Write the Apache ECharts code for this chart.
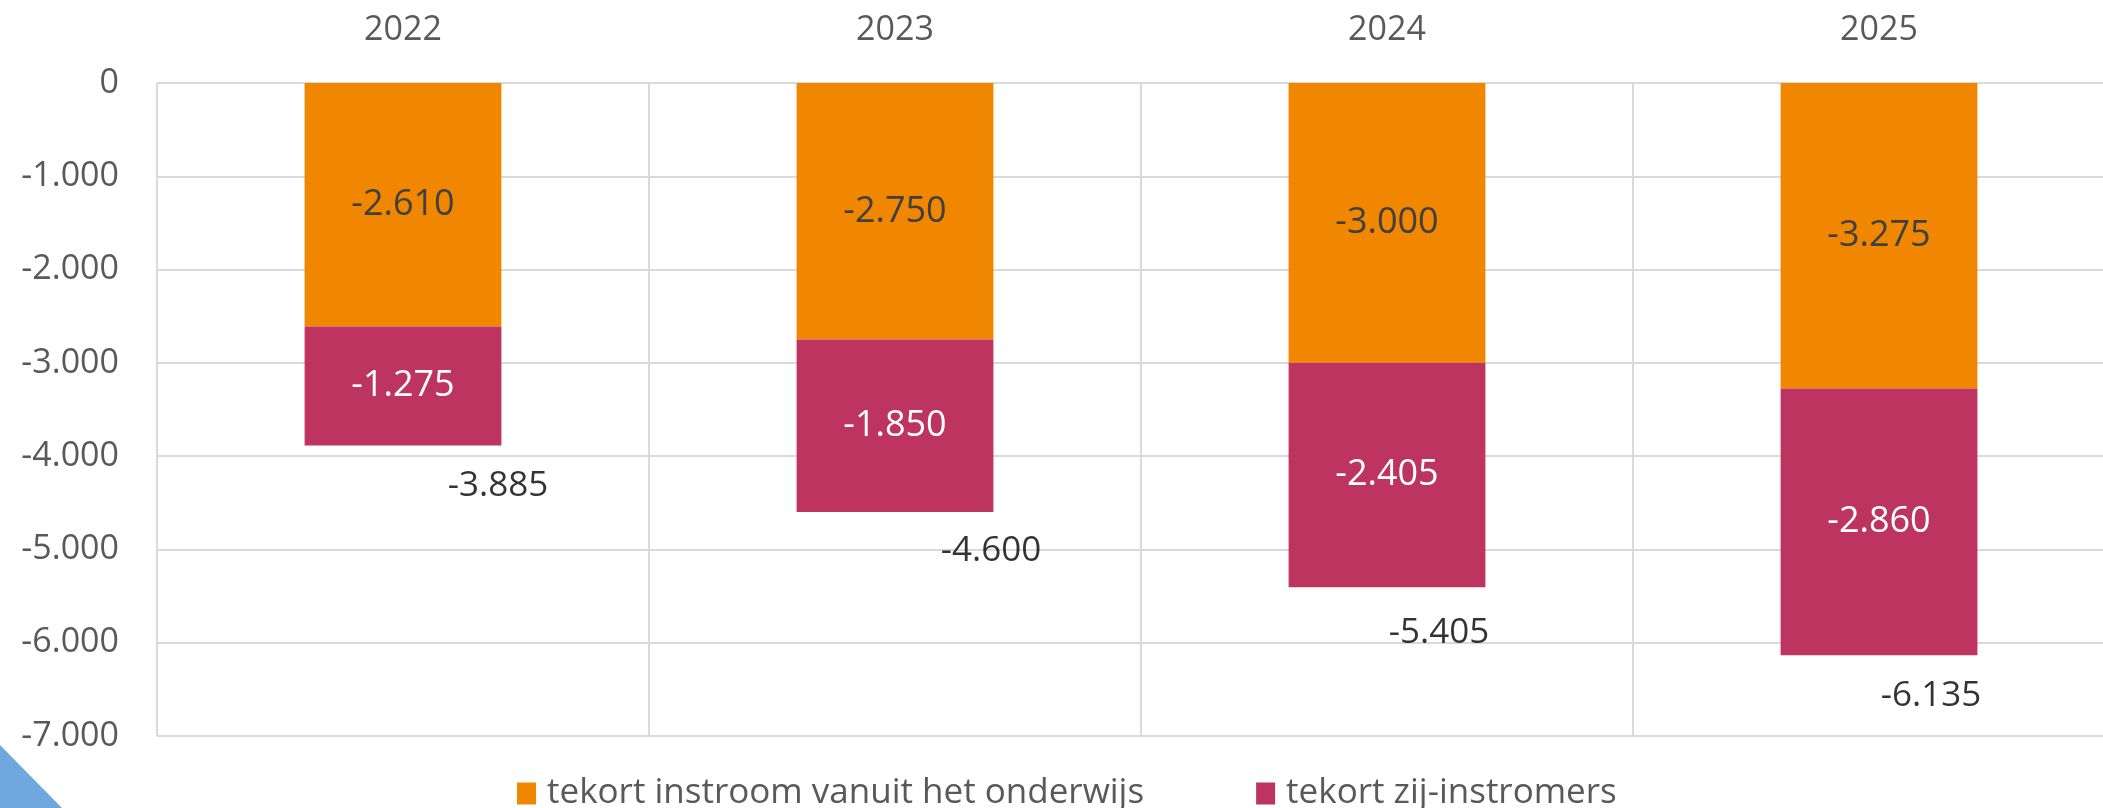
<!DOCTYPE html>
<html>
<head>
<meta charset="utf-8">
<script src="https://cdn.jsdelivr.net/npm/echarts@6/dist/echarts.min.js"></script>
<style>
  html, body { margin: 0; padding: 0; background: #fff; }
  #chart { width: 2103px; height: 808px; }
</style>
</head>
<body>
<div id="chart"></div>
<script>
// jaren en tekorten
var years = ['2022', '2023', '2024', '2025'];
var tekortOnderwijs = [-2610, -2750, -3000, -3275];
var tekortZij = [-1275, -1850, -2405, -2860];
var totaal = [-3885, -4600, -5405, -6135];
var yTicks = [0, -1000, -2000, -3000, -4000, -5000, -6000, -7000];

// plek van de totaal-labels t.o.v. onderkant balk
var totaalOffsets = [[95, 41], [96, 39], [52, 46], [52, 41]];

function fmt(v) {
	var s = Math.abs(Math.round(v)).toString().replace(/\B(?=(\d{3})+(?!\d))/g, '.');
	return (v < 0 ? '-' : '') + s;
}

var font = '"Open Sans", sans-serif';
var chart = echarts.init(document.getElementById('chart'));

chart.setOption({
	animation: false,
	textStyle: { fontFamily: font },
	grid: { left: 157, top: 83, width: 1968, height: 653, outerBoundsMode: 'none', containLabel: false },
	legend: {
		data: ['tekort instroom vanuit het onderwijs', 'tekort zij-instromers'],
		left: 512,
		top: 771,
		itemWidth: 19,
		itemHeight: 22,
		itemGap: 112,
		icon: 'rect',
		textStyle: { fontSize: 35, color: '#595959', fontFamily: font, padding: [0, 0, 0, 6] }
	},
	xAxis: {
		type: 'category',
		position: 'top',
		data: years,
		axisLine: { show: false },
		axisTick: { show: false },
		splitLine: { show: true, lineStyle: { color: '#d9d9d9', width: 2 } },
		axisLabel: { fontSize: 34, color: '#595959', margin: 36, fontFamily: font }
	},
	yAxis: {
		type: 'value',
		min: yTicks[yTicks.length - 1],
		max: yTicks[0],
		interval: 1000,
		axisLine: { show: false },
		axisTick: { show: false },
		splitLine: { lineStyle: { color: '#d9d9d9', width: 2 } },
		axisLabel: {
			fontSize: 34, color: '#595959', margin: 38, fontFamily: font,
			formatter: function (v) { return fmt(v); }
		}
	},
	series: [
		{
			name: 'tekort instroom vanuit het onderwijs',
			type: 'bar',
			stack: 'tekort',
			barWidth: '40%',
			data: tekortOnderwijs,
			itemStyle: { color: '#F18700' },
			label: {
				show: true, position: 'inside', fontSize: 36, color: '#404040', fontFamily: font,
				formatter: function (p) { return fmt(p.value); }
			}
		},
		{
			name: 'tekort zij-instromers',
			type: 'bar',
			stack: 'tekort',
			barWidth: '40%',
			data: tekortZij,
			itemStyle: { color: '#BE3461' },
			label: {
				show: true, position: 'inside', fontSize: 36, color: '#ffffff', fontFamily: font,
				formatter: function (p) { return fmt(p.value); }
			}
		},
		{
			name: 'totaal',
			type: 'scatter',
			symbolSize: 0,
			silent: true,
			z: 5,
			data: totaal.map(function (v, i) {
				return {
					value: v,
					label: { offset: totaalOffsets[i] }
				};
			}),
			label: {
				show: true, position: 'inside', fontSize: 35, color: '#000000', fontFamily: font,
				formatter: function (p) { return fmt(p.value); }
			}
		}
	],
	graphic: [
		{
			type: 'polygon',
			silent: true,
			shape: { points: [[0, 745], [62, 808], [0, 808]] },
			style: { fill: '#6FA8DC' }
		}
	]
});
</script>
</body>
</html>
